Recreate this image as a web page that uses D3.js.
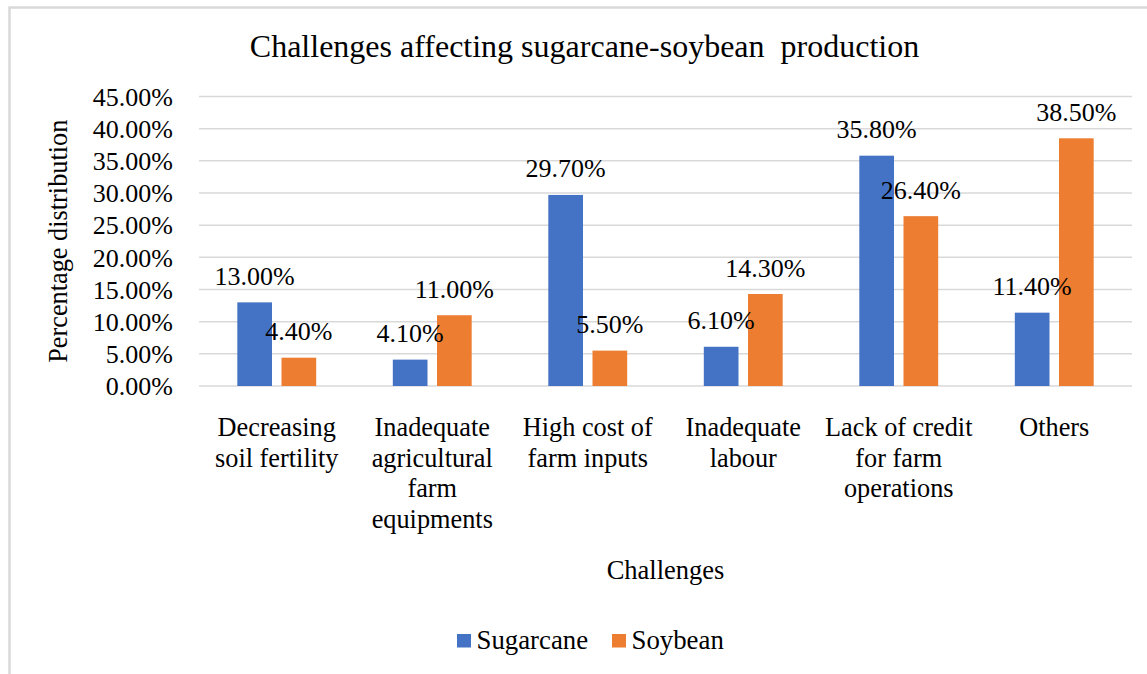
<!DOCTYPE html>
<html>
<head>
<meta charset="utf-8">
<script src="https://cdn.jsdelivr.net/npm/d3@7"></script>
<style>
  html, body { margin: 0; padding: 0; background: #fff; }
  svg text, svg tspan { font-family: "Liberation Serif", "Times New Roman", serif; }
</style>
</head>
<body>
<svg id="chart" width="1147" height="674" font-family="Liberation Serif, Times New Roman, serif"></svg>
<script>
const categories = [
  "Decreasing soil fertility",
  "Inadequate agricultural farm equipments",
  "High cost of farm inputs",
  "Inadequate labour",
  "Lack of credit for farm operations",
  "Others"
];
const categoryLines = [
  ["Decreasing", "soil fertility"],
  ["Inadequate", "agricultural", "farm", "equipments"],
  ["High cost of", "farm inputs"],
  ["Inadequate", "labour"],
  ["Lack of credit", "for farm", "operations"],
  ["Others"]
];
const seriesNames = ["Sugarcane", "Soybean"];
const sugarcane = [13.0, 4.1, 29.7, 6.1, 35.8, 11.4];
const soybean = [4.4, 11.0, 5.5, 14.3, 26.4, 38.5];
const yTicks = [0, 5, 10, 15, 20, 25, 30, 35, 40, 45];
const colors = ["#4472C4", "#ED7D31"];

const title = "Challenges affecting sugarcane-soybean  production";
const xTitle = "Challenges";
const yTitle = "Percentage distribution";

const FONT = "'Liberation Serif', 'Times New Roman', serif";
const svg = d3.select("#chart");

// chart border (only top and left visible in crop)
svg.append("rect")
  .attr("x", 9.5).attr("y", 7.5)
  .attr("width", 1400).attr("height", 900)
  .attr("fill", "none").attr("stroke", "#D9D9D9").attr("stroke-width", 2.5);

const plot = { left: 199, right: 1132, top: 96.5, bottom: 386 };

const x0 = d3.scaleBand().domain(categories).range([plot.left, plot.right]).padding(0);
const x1 = d3.scaleBand().domain(seriesNames).range([0, x0.bandwidth()])
  .paddingInner(0.215).paddingOuter(0.867);
const y = d3.scaleLinear().domain([0, 45]).range([plot.bottom, plot.top]);

function txt(x, yy, s, size, anchor) {
  return svg.append("text")
    .attr("x", x).attr("y", yy)
    .attr("text-anchor", anchor || "middle")
    .attr("font-family", FONT)
    .style("font-family", FONT)
    .attr("font-size", size).attr("fill", "#000")
    .text(s);
}

// gridlines
yTicks.forEach(d => {
  svg.append("line")
    .attr("x1", plot.left).attr("x2", plot.right)
    .attr("y1", y(d)).attr("y2", y(d))
    .attr("stroke", "#D9D9D9").attr("stroke-width", 1.5);
});

// y tick labels
yTicks.forEach(d => txt(173, y(d) + 9.3, d.toFixed(2) + "%", 26, "end"));

// bars and data labels
const allSeries = [sugarcane, soybean];
categories.forEach((c, i) => {
  seriesNames.forEach((s, j) => {
    const v = allSeries[j][i];
    const bx = x0(c) + x1(s);
    svg.append("rect")
      .attr("x", bx).attr("width", x1.bandwidth())
      .attr("y", y(v)).attr("height", y(0) - y(v))
      .attr("fill", colors[j]);
  });
});
categories.forEach((c, i) => {
  seriesNames.forEach((s, j) => {
    const v = allSeries[j][i];
    txt(x0(c) + x1(s) + x1.bandwidth() / 2, y(v) - 17.5, v.toFixed(2) + "%", 26);
  });
});

// category labels
categories.forEach((c, i) => {
  categoryLines[i].forEach((ln, k) => {
    txt(x0(c) + x0.bandwidth() / 2, 436 + k * 30.6, ln, 26.3);
  });
});

// title
txt(584.5, 57, title, 32).style("white-space", "pre");

// x axis title
txt((plot.left + plot.right) / 2, 579, xTitle, 26.5);

// y axis title
svg.append("text")
  .attr("transform", `translate(67,${(plot.top + plot.bottom) / 2}) rotate(-90)`)
  .attr("text-anchor", "middle")
  .attr("font-family", FONT)
  .style("font-family", FONT)
  .attr("font-size", 26.3).attr("fill", "#000")
  .text(yTitle);

// legend
const legendX = [457, 612];
seriesNames.forEach((s, i) => {
  svg.append("rect").attr("x", legendX[i]).attr("y", 634)
    .attr("width", 14).attr("height", 13.5).attr("fill", colors[i]);
  txt(legendX[i] + 19.5, 649, s, 26.8, "start");
});
</script>
</body>
</html>
